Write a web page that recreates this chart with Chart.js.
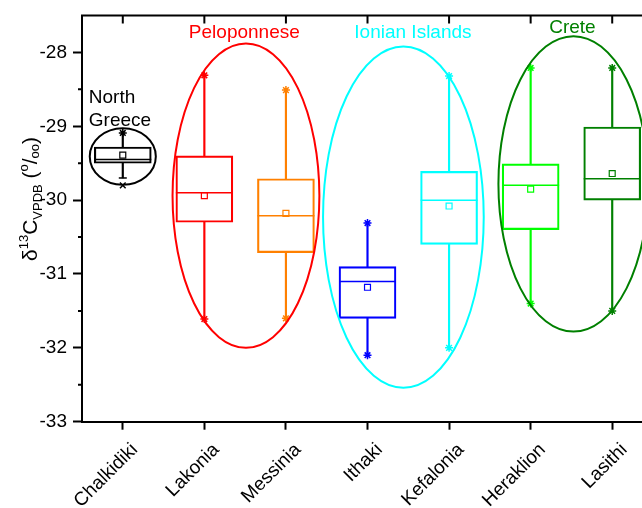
<!DOCTYPE html>
<html>
<head>
<meta charset="utf-8">
<title>δ13C by region</title>
<script src="https://cdn.jsdelivr.net/npm/chart.js@4.4.1/dist/chart.umd.min.js"></script>
<style>
  html, body { margin: 0; padding: 0; background: #fff; overflow: hidden; }
  #wrap { width: 653px; height: 508px; }
</style>
</head>
<body>
<div id="wrap"><canvas id="isoChart" width="653" height="508"></canvas></div>
<script>
const FONT = "'Liberation Sans', Arial, sans-serif";

const regions = ['Chalkidiki', 'Lakonia', 'Messinia', 'Ithaki', 'Kefalonia', 'Heraklion', 'Lasithi'];
const colors = ['#000000', '#ff0000', '#ff8000', '#0000ff', '#00ffff', '#00ff00', '#008000'];

// box plot values (per mil)
const q1 = [-29.50, -30.30, -30.71, -31.60, -30.60, -30.40, -30.00];
const q3 = [-29.28, -29.40, -29.71, -30.90, -29.61, -29.51, -29.01];
const median = [-29.45, -29.90, -30.21, -31.10, -30.00, -29.80, -29.71];
const mean = [-29.39, -29.94, -30.18, -31.18, -30.08, -29.85, -29.64];
const whiskerLow = [-29.70, -31.61, -31.60, -32.10, -32.00, -31.40, -31.50];
const whiskerHigh = [-29.09, -28.31, -28.51, -30.31, -28.32, -28.21, -28.21];
const minValue = [-29.80, -31.61, -31.60, -32.10, -32.00, -31.40, -31.50];
const maxValue = [-29.09, -28.31, -28.51, -30.31, -28.32, -28.21, -28.21];
const capValue = [-29.70, null, null, null, null, null, null];

const yMajorTicks = [-33, -32, -31, -30, -29, -28];
const yMinorTicks = [-32.5, -31.5, -30.5, -29.5, -28.5];

// regional groupings, ellipses given in axis units
const ellipses = [
  { color: '#000000', cx: 0, cy: -29.41, rx: 0.405, ry: 0.383 },
  { color: '#ff0000', cx: 1.51, cy: -29.94, rx: 0.90, ry: 2.06 },
  { color: '#00ffff', cx: 3.44, cy: -30.23, rx: 0.985, ry: 2.31 },
  { color: '#008000', cx: 5.525, cy: -29.78, rx: 0.92, ry: 2.0 }
];
const groupLabels = [
  { text: 'North', color: '#000000', x: -0.417, y: -28.68, align: 'left' },
  { text: 'Greece', color: '#000000', x: -0.417, y: -28.99, align: 'left' },
  { text: 'Peloponnese', color: '#ff0000', x: 1.49, y: -27.80, align: 'center' },
  { text: 'Ionian Islands', color: '#00ffff', x: 3.557, y: -27.80, align: 'center' },
  { text: 'Crete', color: '#008000', x: 5.512, y: -27.74, align: 'center' }
];

const titleParts = [
  { t: 'δ', size: 21, dy: 0 },
  { t: '13', size: 13, dy: -9 },
  { t: 'C', size: 21, dy: 0 },
  { t: 'VPDB', size: 13, dy: 5 },
  { t: ' (', size: 21, dy: 0 },
  { t: 'o', size: 13, dy: -9 },
  { t: '/', size: 21, dy: 0 },
  { t: 'oo', size: 13, dy: 2 },
  { t: ')', size: 21, dy: 0 }
];

const decorations = {
  id: 'decorations',
  afterDraw(chart) {
    const { ctx, chartArea: area, scales: { x, y } } = chart;
    ctx.save();

    // top frame with inward ticks, minor ticks on the left
    ctx.strokeStyle = '#000';
    ctx.lineWidth = 2;
    ctx.beginPath();
    ctx.moveTo(area.left - 1, area.top);
    ctx.lineTo(area.right, area.top);
    regions.forEach((_, i) => {
      const px = x.getPixelForValue(i);
      ctx.moveTo(px, area.top);
      ctx.lineTo(px, area.top + 8);
    });
    yMinorTicks.forEach(v => {
      const py = y.getPixelForValue(v);
      ctx.moveTo(area.left - 4, py);
      ctx.lineTo(area.left, py);
    });
    ctx.stroke();

    // group ellipses
    ctx.lineWidth = 2;
    ellipses.forEach(e => {
      const cx = x.getPixelForValue(e.cx);
      const cy = y.getPixelForValue(e.cy);
      const rx = Math.abs(x.getPixelForValue(e.cx + e.rx) - cx);
      const ry = Math.abs(y.getPixelForValue(e.cy + e.ry) - cy);
      ctx.strokeStyle = e.color;
      ctx.beginPath();
      ctx.ellipse(cx, cy, rx, ry, 0, 0, Math.PI * 2);
      ctx.stroke();
    });

    ctx.font = '19px ' + FONT;
    ctx.textBaseline = 'alphabetic';
    groupLabels.forEach(g => {
      ctx.fillStyle = g.color;
      ctx.textAlign = g.align;
      ctx.fillText(g.text, x.getPixelForValue(g.x), y.getPixelForValue(g.y));
    });

    // y axis title with sub/superscripts
    ctx.fillStyle = '#000';
    ctx.textAlign = 'left';
    ctx.translate(36.5, 261);
    ctx.rotate(-Math.PI / 2);
    let pos = 0;
    titleParts.forEach(p => {
      ctx.font = p.size + 'px ' + FONT;
      ctx.fillText(p.t, pos, p.dy);
      pos += ctx.measureText(p.t).width;
    });
    ctx.restore();
  }
};

const lineMarks = (label, data, style, radius, extra) => Object.assign({
  type: 'line',
  label,
  data,
  showLine: false,
  pointStyle: style,
  pointRadius: radius,
  pointHoverRadius: radius,
  pointBorderColor: colors,
  pointBackgroundColor: 'rgba(0,0,0,0)',
  pointBorderWidth: 1.5,
  clip: false,
  order: 1
}, extra || {});

new Chart(document.getElementById('isoChart'), {
  type: 'bar',
  data: {
    labels: regions,
    datasets: [
      {
        label: 'IQR',
        data: regions.map((_, i) => [q1[i], q3[i]]),
        backgroundColor: 'rgba(0,0,0,0)',
        borderColor: colors,
        borderWidth: 1.5,
        borderSkipped: false,
        barThickness: 57,
        grouped: false,
        order: 3
      },
      {
        label: 'lower whisker',
        data: regions.map((_, i) => [whiskerLow[i], q1[i]]),
        backgroundColor: colors,
        borderWidth: 0,
        barThickness: 1.5,
        grouped: false,
        order: 4
      },
      {
        label: 'upper whisker',
        data: regions.map((_, i) => [q3[i], whiskerHigh[i]]),
        backgroundColor: colors,
        borderWidth: 0,
        barThickness: 1.5,
        grouped: false,
        order: 4
      },
      lineMarks('median', median, 'line', 28.5),
      lineMarks('mean', mean, 'rect', 4.2, { pointBorderWidth: 1.2 }),
      lineMarks('max', maxValue, 'star', 4),
      lineMarks('min', minValue, ['crossRot', 'star', 'star', 'star', 'star', 'star', 'star'], 4),
      lineMarks('cap', capValue, 'line', 4)
    ]
  },
  options: {
    responsive: false,
    animation: false,
    devicePixelRatio: 1,
    layout: { autoPadding: false, padding: { top: 15.5, left: 0, right: 0, bottom: 0 } },
    plugins: {
      legend: { display: false },
      tooltip: { enabled: false }
    },
    scales: {
      x: {
        offset: true,
        grid: { display: true, drawOnChartArea: false, offset: false, tickLength: 8, tickWidth: 2, tickColor: '#000' },
        border: { display: true, color: '#000', width: 2 },
        ticks: {
          autoSkip: false,
          minRotation: 45,
          maxRotation: 45,
          padding: 9,
          labelOffset: 12,
          color: '#000',
          font: { family: FONT, size: 19 }
        },
        afterFit: (axis) => {
          axis.height = 86.3;
          axis.paddingLeft = 0;
          axis.paddingRight = 0;
        }
      },
      y: {
        min: -33,
        max: -27.5,
        grid: { display: true, drawOnChartArea: false, tickLength: 9, tickWidth: 2, tickColor: '#000' },
        border: { display: true, color: '#000', width: 2 },
        ticks: {
          padding: 6,
          color: '#000',
          font: { family: FONT, size: 19 },
          callback: (v) => String(v)
        },
        afterBuildTicks: (axis) => { axis.ticks = yMajorTicks.map(v => ({ value: v })); },
        afterFit: (axis) => {
          axis.width = 82;
          axis.paddingTop = 0;
          axis.paddingBottom = 0;
        }
      }
    }
  },
  plugins: [decorations]
});
</script>
</body>
</html>
